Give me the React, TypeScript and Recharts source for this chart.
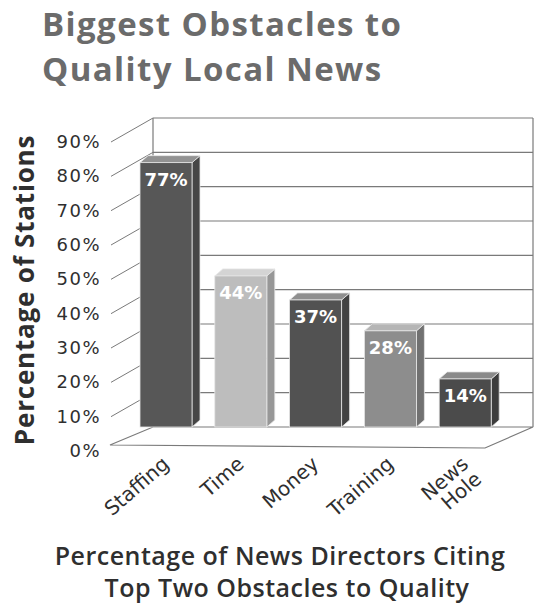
import React from "react";
import { BarChart, Bar, XAxis, YAxis, CartesianGrid, Cell, LabelList } from "recharts";

const categories = ["Staffing", "Time", "Money", "Training", "News Hole"];
const shares = [77, 44, 37, 28, 14];
const barColors = ["#575757", "#bdbdbd", "#525252", "#8d8d8d", "#4b4b4b"];
const yTicks = [0, 10, 20, 30, 40, 50, 60, 70, 80, 90];

const data = categories.map((name, i) => ({ name, value: shares[i] }));

const W = 536;
const H = 608;
const PLOT_TOP = 118;
const PLOT_BOTTOM = 427;
const PLOT_LEFT = 129;
const PLOT_RIGHT = 503;
const YAXIS_W = 60;
const XAXIS_H = 30;
const WALL_SHIFT_L = 24;
const WALL_SHIFT_R = 30;
const LINE_COLOR = "#7a7a7a";
const TEXT_DARK = "#2f2f2f";

// shade a hex colour by amount (-1..1)
const shade = (hex: string, amt: number) => {
  const n = parseInt(hex.slice(1), 16);
  const f = (c: number) => {
    const v = amt < 0 ? c * (1 + amt) : c + (255 - c) * amt;
    return Math.max(0, Math.min(255, Math.round(v)));
  };
  const r = f((n >> 16) & 255), g = f((n >> 8) & 255), b = f(n & 255);
  return `rgb(${r},${g},${b})`;
};

// back wall lines + floor, drawn in the grid layer so bars cover them
const WallLine = (props: any) => {
  const { x1, x2, y1 } = props;
  const left = x1 + WALL_SHIFT_L;
  const right = x2 + WALL_SHIFT_R;
  const isFloor = Math.abs(y1 - PLOT_BOTTOM) < 1;
  const isTop = Math.abs(y1 - PLOT_TOP) < 1;
  return (
    <g>
      {isFloor ? (
        <polygon
          points={`${x1 - 19},${y1 + 18} ${x2 - 18},${y1 + 21} ${right},${y1} ${left},${y1}`}
          fill="#fff"
          stroke={LINE_COLOR}
          strokeWidth={1.2}
        />
      ) : (
        <line x1={left} y1={y1} x2={right} y2={y1} stroke={LINE_COLOR} strokeWidth={1.1} />
      )}
      {!isFloor && (
        <line x1={x1 - 18} y1={y1 + 24} x2={left} y2={y1} stroke={LINE_COLOR} strokeWidth={1} />
      )}
      {isTop && (
        <g>
          <line x1={left} y1={y1} x2={left} y2={PLOT_BOTTOM} stroke={LINE_COLOR} strokeWidth={1.2} />
          <line x1={right} y1={y1} x2={right} y2={PLOT_BOTTOM} stroke={LINE_COLOR} strokeWidth={1.2} />
        </g>
      )}
    </g>
  );
};

const Bar3D = (props: any) => {
  const { x, y, width, height, fill } = props;
  const dx = 8;
  const dy = 7;
  return (
    <g>
      <polygon
        points={`${x + width},${y} ${x + width + dx},${y - dy} ${x + width + dx},${y + height - dy} ${x + width},${y + height}`}
        fill={shade(fill, -0.2)}
        stroke="#e6e6e6"
        strokeWidth={0.8}
      />
      <polygon
        points={`${x},${y} ${x + dx},${y - dy} ${x + width + dx},${y - dy} ${x + width},${y}`}
        fill={shade(fill, 0.35)}
        stroke="#e6e6e6"
        strokeWidth={0.8}
      />
      <rect x={x} y={y} width={width} height={height} fill={fill} stroke="#e6e6e6" strokeWidth={0.8} />
    </g>
  );
};

const YTick = (props: any) => {
  const { y, payload } = props;
  return (
    <text
      x={PLOT_LEFT - 28}
      y={y + 30}
      textAnchor="end"
      fontFamily="DejaVu Sans"
      fontSize={18}
      letterSpacing={1.5}
      fill={TEXT_DARK}
    >
      {`${payload.value}%`}
    </text>
  );
};

const XTick = (props: any) => {
  const { x, y, payload } = props;
  const lines = String(payload.value).split(" ");
  return (
    <g transform={`translate(${x + 4},${y + 31})`}>
      <text
        transform="rotate(-41)"
        textAnchor="end"
        fontFamily="DejaVu Sans"
        fontSize={20}
        fill={TEXT_DARK}
      >
        {lines.map((l, i) => (
          <tspan key={l} x={0} dy={i === 0 ? 0 : "1em"}>
            {l}
          </tspan>
        ))}
      </text>
    </g>
  );
};

const BarValue = (props: any) => {
  const { x, y, width, value } = props;
  return (
    <text
      x={x + width / 2}
      y={y + 23}
      textAnchor="middle"
      fontFamily="DejaVu Sans"
      fontWeight="bold"
      fontSize={18}
      fill="#fff"
    >
      {`${value}%`}
    </text>
  );
};

export default function App() {
  return (
    <div style={{ position: "absolute", left: 0, top: 0, width: W, height: H, background: "#fff" }}>
      <svg width={W} height={H} style={{ position: "absolute", left: 0, top: 0 }}>
        <g fontFamily="Open Sans" fontWeight="bold">
          <text x={42} y={36} fontSize={33} letterSpacing={1.4} fill="#6b6b6b">
            Biggest Obstacles to
          </text>
          <text x={42} y={81} fontSize={33} letterSpacing={1.4} fill="#6b6b6b">
            Quality Local News
          </text>
          <text
            transform="translate(34,290) rotate(-90)"
            textAnchor="middle"
            fontSize={26}
            letterSpacing={0.8}
            fill={TEXT_DARK}
          >
            Percentage of Stations
          </text>
          <text textAnchor="middle" fontSize={25} fontWeight={600} letterSpacing={0.5} fill={TEXT_DARK}>
            <tspan x={280} y={565}>Percentage of News Directors Citing</tspan>
            <tspan x={287} y={597}>Top Two Obstacles to Quality</tspan>
          </text>
        </g>
      </svg>
      <div style={{ position: "absolute", left: 0, top: 0 }}>
        <BarChart
          width={W}
          height={H}
          data={data}
          margin={{
            top: PLOT_TOP,
            right: W - PLOT_RIGHT,
            left: PLOT_LEFT - YAXIS_W,
            bottom: H - PLOT_BOTTOM - XAXIS_H,
          }}
        >
          <CartesianGrid horizontal={WallLine} vertical={false} />
          <XAxis
            dataKey="name"
            height={XAXIS_H}
            axisLine={false}
            tickLine={false}
            interval={0}
            tick={<XTick />}
          />
          <YAxis
            width={YAXIS_W}
            domain={[0, 90]}
            ticks={yTicks}
            axisLine={false}
            tickLine={false}
            tick={<YTick />}
          />
          <Bar dataKey="value" barSize={52} shape={<Bar3D />} isAnimationActive={false}>
            {data.map((d, i) => (
              <Cell key={d.name} fill={barColors[i]} />
            ))}
            <LabelList dataKey="value" content={<BarValue />} />
          </Bar>
        </BarChart>
      </div>
    </div>
  );
}
